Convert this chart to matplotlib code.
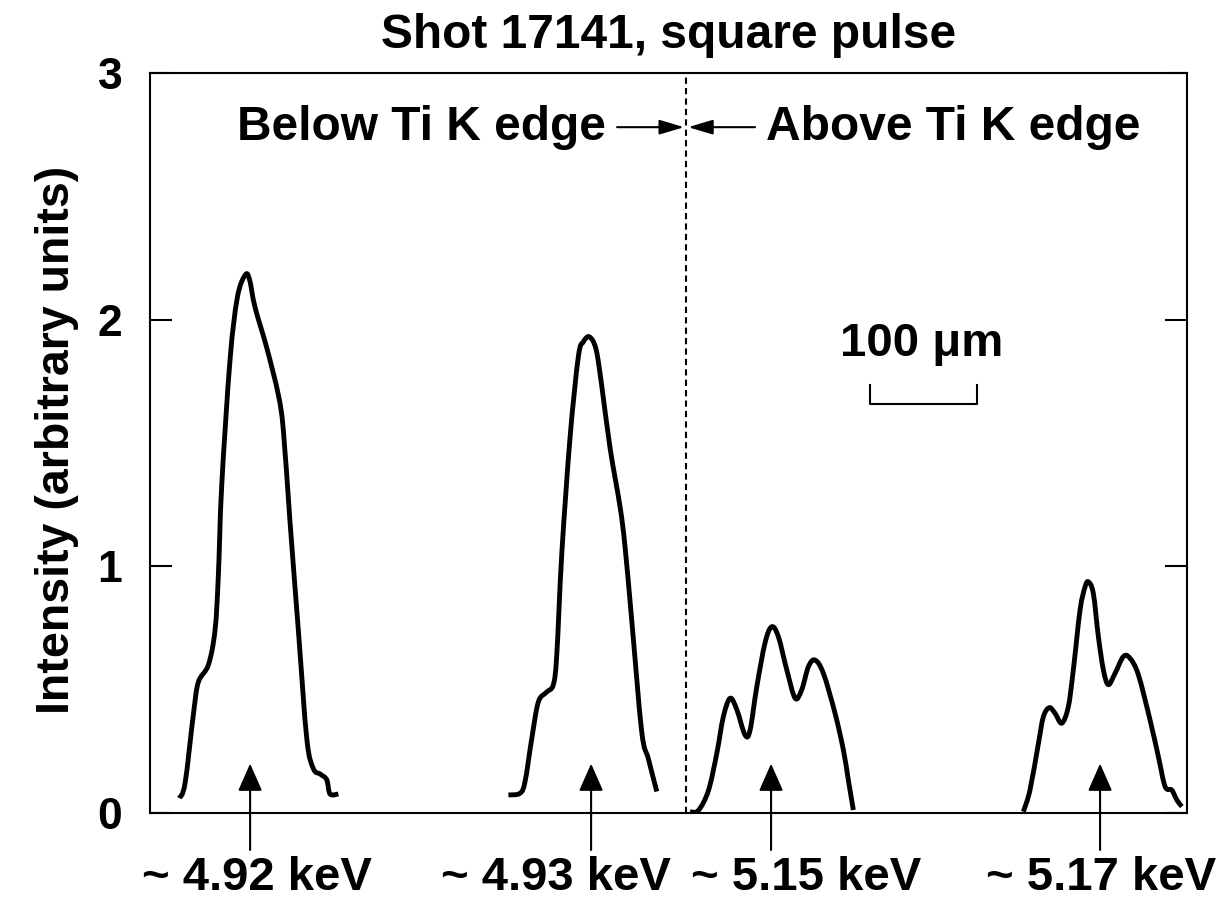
import matplotlib
matplotlib.use('Agg')
import matplotlib.pyplot as plt
from matplotlib.path import Path
import matplotlib.patches as patches
import numpy as np

plt.rcParams['font.family'] = ['Liberation Sans', 'DejaVu Sans']
plt.rcParams['font.weight'] = 'bold'

# Lineouts across the four images, position in um, intensity in arbitrary units
pos_492 = [27.4, 32.7, 40.5, 45.1, 54.5, 60.7, 63.8, 67.0, 74.8, 81.6, 88.8, 92.8,
           98.1, 109.1, 119.9, 124.6, 130.8, 138.6, 146.5, 152.6, 158.9, 165.1, 168.2, 176.0]
int_492 = [0.06, 0.12, 0.40, 0.53, 0.60, 0.74, 0.96, 1.33, 1.84, 2.09, 2.18, 2.165,
           2.05, 1.885, 1.695, 1.55, 1.18, 0.74, 0.30, 0.18, 0.158, 0.135, 0.077, 0.077]

pos_493 = [334.9, 345.8, 350.5, 356.7, 362.9, 370.7, 376.9, 380.1, 384.8, 392.5, 400.3,
           405.0, 410.6, 416.8, 422.2, 429.9, 439.3, 443.9, 450.2, 459.5, 465.7, 473.6]
int_493 = [0.073, 0.08, 0.128, 0.30, 0.45, 0.49, 0.52, 0.64, 1.05, 1.52, 1.85,
           1.91, 1.93, 1.88, 1.73, 1.48, 1.24, 1.08, 0.78, 0.33, 0.22, 0.087]

pos_515 = [504.7, 512.4, 521.8, 529.6, 535.8, 542.1, 548.3, 556.1, 560.8, 567.0, 574.8, 581.0,
           587.2, 595.1, 602.9, 609.1, 615.3, 621.5, 629.3, 640.2, 648.0, 652.6, 657.3]
int_515 = [0.005, 0.01, 0.09, 0.24, 0.39, 0.465, 0.42, 0.316, 0.336, 0.51, 0.69, 0.755,
           0.715, 0.58, 0.465, 0.50, 0.593, 0.62, 0.566, 0.404, 0.255, 0.134, 0.012]

pos_517 = [816.2, 822.4, 830.2, 834.9, 840.5, 845.8, 852.1, 858.2, 862.9, 869.2, 873.9, 877.0, 881.6,
           886.3, 891.0, 895.6, 901.9, 909.7, 915.9, 923.7, 934.6, 942.4, 948.7, 954.9, 959.6, 964.3]
int_517 = [0.005, 0.093, 0.28, 0.39, 0.427, 0.404, 0.364, 0.43, 0.58, 0.823, 0.917, 0.937, 0.89,
           0.715, 0.58, 0.52, 0.566, 0.634, 0.627, 0.56, 0.377, 0.228, 0.107, 0.093, 0.053, 0.026]

arrow_pos = [93.5, 412.2, 580.4, 887.9]
energy_labels = ['~ 4.92 keV', '~ 4.93 keV', '~ 5.15 keV', '~ 5.17 keV']
label_pos = [100.0, 379.5, 613.0, 888.8]
edge_pos = 501.0


def smooth_path(xs, ys):
	# Catmull-Rom through the points, written as cubic bezier segments
	p = np.column_stack([xs, ys])
	ext = np.vstack([p[0], p, p[-1]])
	verts = [p[0]]
	codes = [Path.MOVETO]
	for i in range(1, len(ext) - 2):
		p0, p1, p2, p3 = ext[i - 1], ext[i], ext[i + 1], ext[i + 2]
		verts += [p1 + (p2 - p0) / 6.0, p2 - (p3 - p1) / 6.0, p2]
		codes += [Path.CURVE4] * 3
	return Path(verts, codes)


fig = plt.figure(figsize=(12.2, 9.0), dpi=100)
ax = fig.add_axes([0.123, 0.0967, 0.850, 0.8223])

for xs, ys in [(pos_492, int_492), (pos_493, int_493), (pos_515, int_515), (pos_517, int_517)]:
	ax.add_patch(patches.PathPatch(smooth_path(xs, ys), facecolor='none', edgecolor='black',
		lw=3.5, joinstyle='round', capstyle='butt'))

# energy markers below each lineout
for xa, lab, xl in zip(arrow_pos, energy_labels, label_pos):
	ax.annotate('', xy=(xa, 0.20), xytext=(xa, -0.15), annotation_clip=False,
		arrowprops=dict(arrowstyle='-|>,head_length=1.7,head_width=0.75', color='black', lw=1.5,
			shrinkA=0, shrinkB=0))
	ax.text(xl, -0.262, lab, ha='center', va='center', fontsize=34, fontweight='bold', clip_on=False)

# K edge divider
ax.axvline(edge_pos, color='black', lw=1.5, ls=(0, (3, 2)))
ax.text(253.3, 2.78, 'Below Ti K edge', ha='center', va='center', fontsize=34.5, fontweight='bold')
ax.text(751.0, 2.78, 'Above Ti K edge', ha='center', va='center', fontsize=34.5, fontweight='bold')
ax.annotate('', xy=(499.0, 2.78), xytext=(436.5, 2.78),
	arrowprops=dict(arrowstyle='-|>,head_length=1.5,head_width=0.45', color='black', lw=1.5, shrinkA=0, shrinkB=0))
ax.annotate('', xy=(503.0, 2.78), xytext=(565.4, 2.78),
	arrowprops=dict(arrowstyle='-|>,head_length=1.5,head_width=0.45', color='black', lw=1.5, shrinkA=0, shrinkB=0))

# scale bar
ax.plot([673, 673, 773, 773], [1.735, 1.658, 1.658, 1.735], color='black', lw=1.5)
ax.text(721.5, 1.90, '100 \u03bcm', ha='center', va='center', fontsize=34, fontweight='bold')

ax.set_xlim(0, 969.2)
ax.set_ylim(0, 3)
ax.set_xticks([])
ax.set_yticks([0, 1, 2, 3])
ax.tick_params(axis='y', direction='in', length=16, width=1.5, labelsize=32, pad=20,
	left=True, right=True)
for s in ax.spines.values():
	s.set_linewidth(1.5)

fig.text(0.0467, 0.511, 'Intensity (arbitrary units)', rotation=90, ha='center', va='center',
	fontsize=33.5, fontweight='bold')
fig.text(0.548, 0.961, 'Shot 17141, square pulse', ha='center', va='center', fontsize=34.5, fontweight='bold')

fig.savefig('out.png', dpi=100)
